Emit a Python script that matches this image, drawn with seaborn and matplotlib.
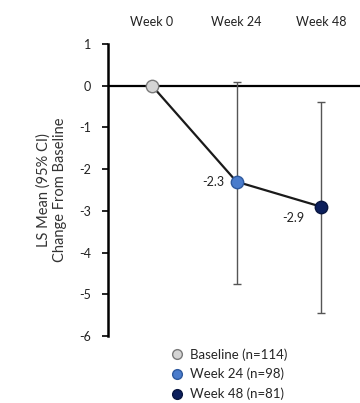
import matplotlib
matplotlib.use("Agg")
import matplotlib.pyplot as plt
import seaborn as sns
import pandas as pd
from matplotlib.lines import Line2D

weeks = ["Week 0", "Week 24", "Week 48"]
legend_labels = ["Baseline (n=114)", "Week 24 (n=98)", "Week 48 (n=81)"]
ls_mean = [0.0, -2.3, -2.9]
ci_low = [None, -4.75, -5.45]
ci_high = [None, 0.1, -0.4]
value_labels = ["", "-2.3", "-2.9"]
colors = ["#d4d4d4", "#4a7ccc", "#0c1f5c"]
edge_colors = ["#7a7a7a", "#2f5a9e", "#08153f"]

sns.set_theme(style="white")
plt.rcParams["font.family"] = ["Lato", "DejaVu Sans"]

df = pd.DataFrame({"x": range(len(weeks)), "y": ls_mean, "week": weeks})

fig = plt.figure(figsize=(3.6, 4.03), dpi=100)
ax = fig.add_axes([0.3, 0.164, 0.7, 0.729])

# zero reference line
ax.axhline(0, color="black", lw=1.6, zorder=1)

# error bars
for i in range(len(weeks)):
    if ci_low[i] is not None:
        ax.errorbar(i, ls_mean[i],
                    yerr=[[ls_mean[i] - ci_low[i]], [ci_high[i] - ls_mean[i]]],
                    fmt="none", ecolor="#555555", elinewidth=1.0, capsize=3, capthick=1.0, zorder=2)

sns.lineplot(data=df, x="x", y="y", ax=ax, color="#1a1a1a", lw=1.6, zorder=3)
for i in range(len(weeks)):
    ax.scatter(i, ls_mean[i], s=80, color=colors[i], edgecolor=edge_colors[i], linewidth=1.0, zorder=4)

ax.annotate(value_labels[1], (1, ls_mean[1]), xytext=(-9, 0), textcoords="offset points",
            ha="right", va="center", fontsize=9, color="#222222")
ax.annotate(value_labels[2], (2, ls_mean[2]), xytext=(-12, -8), textcoords="offset points",
            ha="right", va="center", fontsize=9, color="#222222")

ax.set_xlim(-0.52, 2.46)
ax.set_ylim(-6.02, 1.02)
ax.set_yticks(range(-6, 2))
ax.set_yticklabels([str(v) for v in range(-6, 2)], fontsize=9, color="#222222")
ax.set_xticks(range(len(weeks)))
ax.set_xticklabels(weeks, fontsize=9, color="#222222")
ax.xaxis.tick_top()
ax.tick_params(axis="x", length=0, pad=11)
ax.tick_params(axis="y", direction="out", length=4, width=1.2, color="black", left=True, pad=8)
ax.set_xlabel("")
ax.set_ylabel("LS Mean (95% CI)\nChange From Baseline", fontsize=10.5, color="#333333", labelpad=9)
for s in ["top", "right", "bottom"]:
    ax.spines[s].set_visible(False)
ax.spines["left"].set_color("black")
ax.spines["left"].set_linewidth(1.8)
ax.spines["left"].set_bounds(-6, 1)
ax.grid(False)

handles = [Line2D([0], [0], marker="o", linestyle="none", markersize=7,
                  markerfacecolor=colors[i], markeredgecolor=edge_colors[i]) for i in range(3)]
fig.legend(handles, legend_labels, loc="lower left", bbox_to_anchor=(0.44, -0.016),
           frameon=False, fontsize=9.5, handletextpad=0.3, handlelength=1.4,
           labelspacing=0.55, borderpad=0.2)

fig.savefig("out.png", dpi=100)
